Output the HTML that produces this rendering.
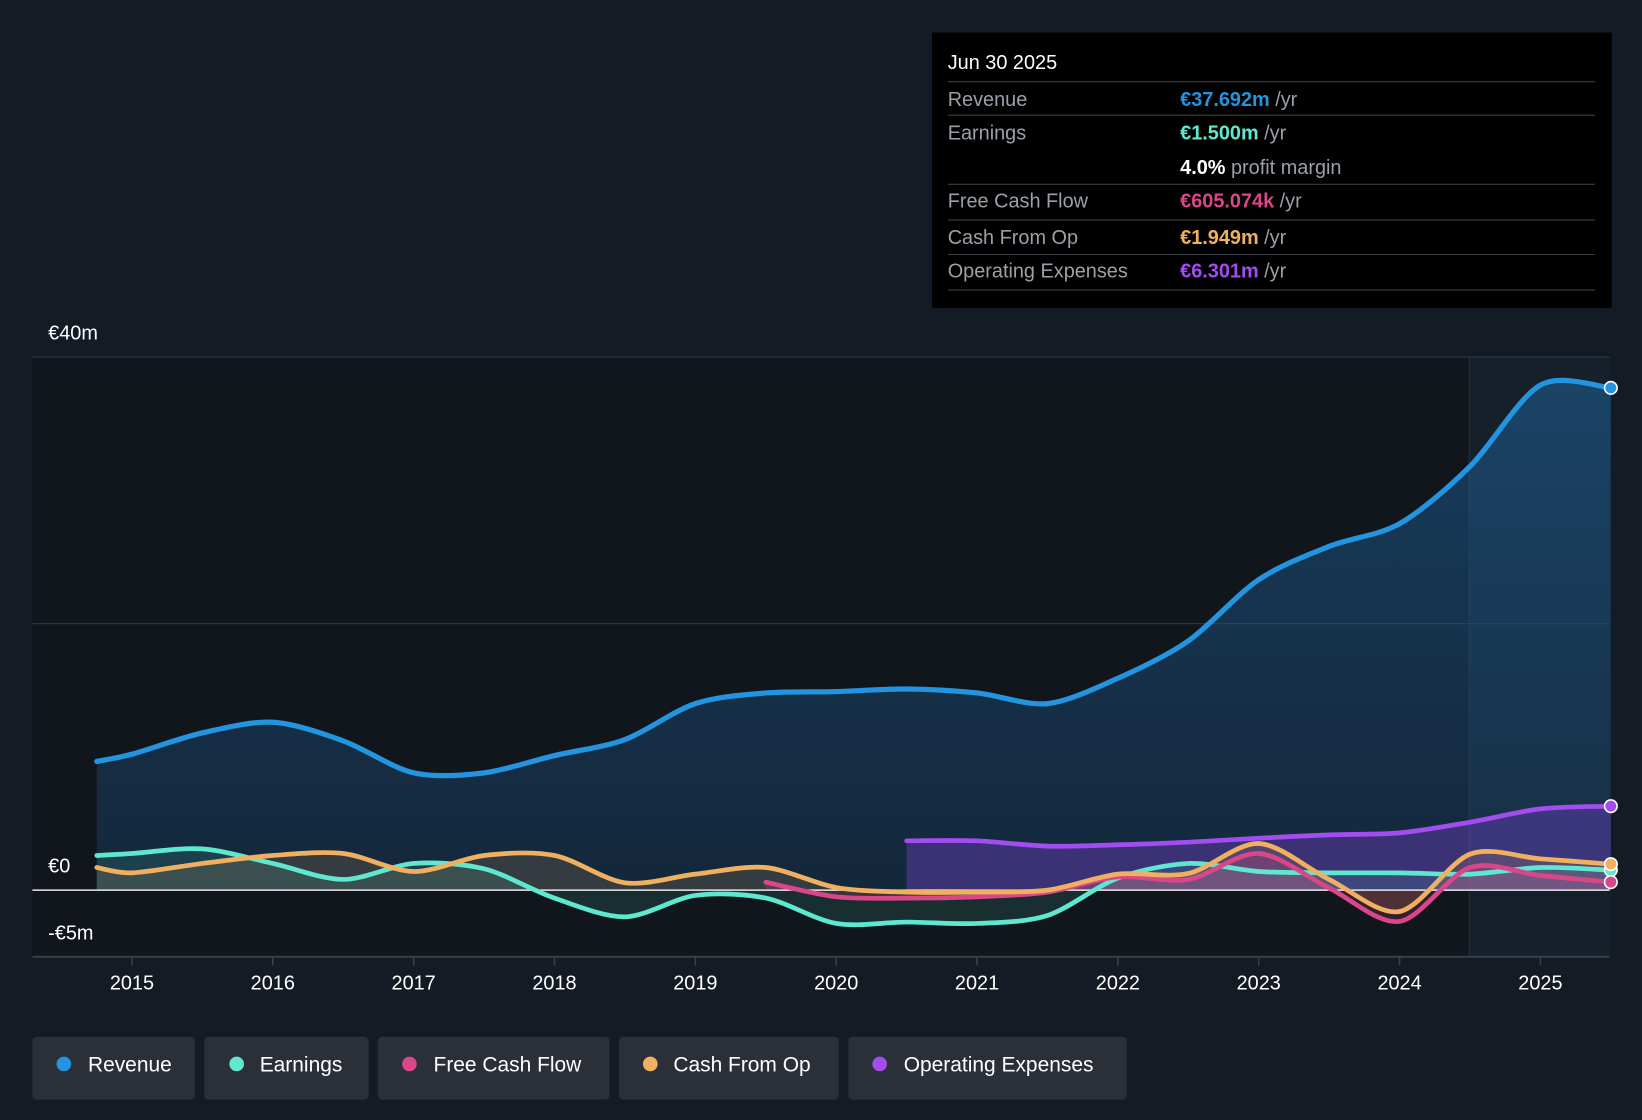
<!DOCTYPE html>
<html><head><meta charset="utf-8"><style>
html,body{margin:0;padding:0;background:#151b24;}
svg{display:block;font-family:"Liberation Sans",sans-serif;}
</style></head><body>
<svg id="chart" width="1642" height="1120" viewBox="0 0 1568 1069.5" preserveAspectRatio="none" xmlns="http://www.w3.org/2000/svg">
<defs>
<linearGradient id="revGrad" x1="0" y1="0" x2="0" y2="1"><stop offset="0" stop-color="#1f6fb0" stop-opacity="0.45"/><stop offset="1" stop-color="#1a4a75" stop-opacity="0.35"/></linearGradient>
</defs>
<rect x="0" y="0" width="1568" height="1069.5" fill="#151b24"/>
<rect x="31" y="341" width="1506" height="573" fill="#11151c"/>
<rect x="1403" y="341" width="134" height="573" fill="#16202b"/>
<line x1="1403" y1="341" x2="1403" y2="914" stroke="#26303b" stroke-width="1"/>
<g id="grid"></g>
<g id="marks"></g>
<g id="axis"></g>
<text x="46" y="324" fill="#fff" font-size="19">€40m</text>
<text x="46" y="833" fill="#fff" font-size="19">€0</text>
<text x="46" y="897" fill="#fff" font-size="19">-€5m</text>

<g>
<rect x="890" y="31" width="649" height="263" fill="#000"/>
<text x="905" y="66" fill="#fff" font-size="19">Jun 30 2025</text>
<g stroke="#3a3f47" stroke-width="1">
<line x1="905" y1="78" x2="1523" y2="78"/><line x1="905" y1="110" x2="1523" y2="110"/><line x1="905" y1="176" x2="1523" y2="176"/><line x1="905" y1="210" x2="1523" y2="210"/><line x1="905" y1="243" x2="1523" y2="243"/><line x1="905" y1="277" x2="1523" y2="277"/>
</g>
<g font-size="19" fill="#9aa0a8">
<text x="905" y="101">Revenue</text><text x="905" y="133">Earnings</text><text x="905" y="198">Free Cash Flow</text><text x="905" y="233">Cash From Op</text><text x="905" y="265">Operating Expenses</text>
</g>
<g font-size="19">
<text x="1127" y="101"><tspan fill="#2394df" font-weight="bold">€37.692m</tspan><tspan fill="#9aa0a8"> /yr</tspan></text>
<text x="1127" y="133"><tspan fill="#5ee8d0" font-weight="bold">€1.500m</tspan><tspan fill="#9aa0a8"> /yr</tspan></text>
<text x="1127" y="166"><tspan fill="#fff" font-weight="bold">4.0%</tspan><tspan fill="#9aa0a8"> profit margin</tspan></text>
<text x="1127" y="198"><tspan fill="#d9478a" font-weight="bold">€605.074k</tspan><tspan fill="#9aa0a8"> /yr</tspan></text>
<text x="1127" y="233"><tspan fill="#f0b060" font-weight="bold">€1.949m</tspan><tspan fill="#9aa0a8"> /yr</tspan></text>
<text x="1127" y="265"><tspan fill="#a34cf0" font-weight="bold">€6.301m</tspan><tspan fill="#9aa0a8"> /yr</tspan></text>
</g>
</g>

<g id="legend" font-size="20" fill="#fff">
<g><rect x="31" y="990" width="155" height="60" rx="4" fill="#2a2f38"/><circle cx="61" cy="1016" r="7" fill="#2394df"/><text x="84" y="1023">Revenue</text></g>
<g><rect x="195" y="990" width="157" height="60" rx="4" fill="#2a2f38"/><circle cx="226" cy="1016" r="7" fill="#5ee8d0"/><text x="248" y="1023">Earnings</text></g>
<g><rect x="361" y="990" width="221" height="60" rx="4" fill="#2a2f38"/><circle cx="391" cy="1016" r="7" fill="#d9478a"/><text x="414" y="1023">Free Cash Flow</text></g>
<g><rect x="591" y="990" width="210" height="60" rx="4" fill="#2a2f38"/><circle cx="621" cy="1016" r="7" fill="#f0b060"/><text x="643" y="1023">Cash From Op</text></g>
<g><rect x="810" y="990" width="266" height="60" rx="4" fill="#2a2f38"/><circle cx="840" cy="1016" r="7" fill="#a34cf0"/><text x="863" y="1023">Operating Expenses</text></g>
</g>
</svg>
<script>
const dates = [2014.75,2015,2015.5,2016,2016.5,2017,2017.5,2018,2018.5,2019,2019.5,2020,2020.5,2021,2021.5,2022,2022.5,2023,2023.5,2024,2024.5,2025,2025.5];
const revenue = [9.66,10.2,11.8,12.6,11.2,8.8,8.8,10.1,11.3,14.0,14.8,14.9,15.1,14.8,14.0,15.9,18.7,23.3,25.8,27.5,31.8,37.9,37.692];
const earnings = [2.6,2.75,3.1,2.0,0.8,2.0,1.6,-0.6,-2.0,-0.4,-0.6,-2.5,-2.4,-2.5,-1.9,0.9,2.0,1.4,1.3,1.3,1.2,1.7,1.5];
const cashFromOp = [1.7,1.3,2.0,2.6,2.75,1.4,2.6,2.6,0.55,1.2,1.7,0.2,-0.15,-0.15,0,1.2,1.25,3.5,0.8,-1.6,2.7,2.35,1.949];
const fcfDates = [2019.5,2020,2020.5,2021,2021.5,2022,2022.5,2023,2023.5,2024,2024.5,2025,2025.5];
const freeCashFlow = [0.6,-0.5,-0.6,-0.5,-0.15,1.0,0.8,2.75,0.15,-2.35,1.7,1.1,0.605];
const opexDates = [2020.5,2021,2021.5,2022,2022.5,2023,2023.5,2024,2024.5,2025,2025.5];
const opex = [3.7,3.7,3.3,3.4,3.6,3.9,4.15,4.3,5.1,6.1,6.301];
const xTicks = [2015,2016,2017,2018,2019,2020,2021,2022,2023,2024,2025];
const yGrid = [40,20,-5];

const NS='http://www.w3.org/2000/svg';
function xS(t){return 126+(t-2015)*134.5;}
function yS(v){return 850-v*12.725;}
function mk(tag,attrs,parent){const e=document.createElementNS(NS,tag);for(const k in attrs)e.setAttribute(k,attrs[k]);parent.appendChild(e);return e;}
const grid=document.getElementById('grid'),marks=document.getElementById('marks'),axis=document.getElementById('axis');
yGrid.forEach(v=>{
  const l=mk('line',{x1:31,x2:1537,y1:yS(v),y2:yS(v),stroke:v===-5?'#3a414b':'#2c333d','stroke-width':v===-5?2:1.2},grid);
  
  
});
xTicks.forEach(t=>{
  const tk=mk('line',{x1:xS(t),x2:xS(t),y1:914,y2:922,stroke:'#3a414b','stroke-width':1.5},axis);
  
  
  const tx=mk('text',{x:xS(t),y:945,fill:'#fff','font-size':19,'text-anchor':'middle'},axis);
  tx.textContent=t;
  
  
});
function smooth(ds,vs){
  const P=ds.map((d,i)=>[xS(d),yS(vs[i])]);
  let s='M'+P[0][0].toFixed(1)+','+P[0][1].toFixed(1);
  const k=0.15;
  for(let i=0;i<P.length-1;i++){
    const p0=P[Math.max(0,i-1)],p1=P[i],p2=P[i+1],p3=P[Math.min(P.length-1,i+2)];
    const c1=[p1[0]+(p2[0]-p0[0])*k,p1[1]+(p2[1]-p0[1])*k];
    const c2=[p2[0]-(p3[0]-p1[0])*k,p2[1]-(p3[1]-p1[1])*k];
    s+=' C'+c1[0].toFixed(1)+','+c1[1].toFixed(1)+' '+c2[0].toFixed(1)+','+c2[1].toFixed(1)+' '+p2[0].toFixed(1)+','+p2[1].toFixed(1);
  }
  return s;
}
function area(ds,vs,fill,name){
  const p=smooth(ds,vs);
  const d=p+' L'+xS(ds[ds.length-1])+','+yS(0)+' L'+xS(ds[0])+','+yS(0)+'Z';
  const a=mk('path',{d:d,fill:fill},marks);
  
  
}
function line(ds,vs,color,name,w){
  const l=mk('path',{d:smooth(ds,vs),fill:'none',stroke:color,'stroke-width':w||4.5,'stroke-linejoin':'round','stroke-linecap':'round'},marks);
  
  
  const c=mk('circle',{cx:xS(ds[ds.length-1]),cy:yS(vs[vs.length-1]),r:6,fill:color,stroke:'#fff','stroke-width':1.5},marks);
  
  
}
area(dates,revenue,'url(#revGrad)','revenue');
area(opexDates,opex,'rgba(130,70,220,0.35)','operating-expenses');
area(dates,earnings,'rgba(94,232,208,0.12)','earnings');
area(dates,cashFromOp,'rgba(240,176,96,0.15)','cash-from-op');
area(fcfDates,freeCashFlow,'rgba(217,71,138,0.18)','free-cash-flow');
const zl=mk('line',{x1:31,x2:1537,y1:yS(0),y2:yS(0),stroke:'#e8e8e8','stroke-width':1.5},marks);


line(opexDates,opex,'#a34cf0','operating-expenses');
line(dates,earnings,'#5ee8d0','earnings');
line(fcfDates,freeCashFlow,'#d9478a','free-cash-flow');
line(dates,cashFromOp,'#f0b060','cash-from-op');
line(dates,revenue,'#2394df','revenue',5);
</script>
</body></html>
